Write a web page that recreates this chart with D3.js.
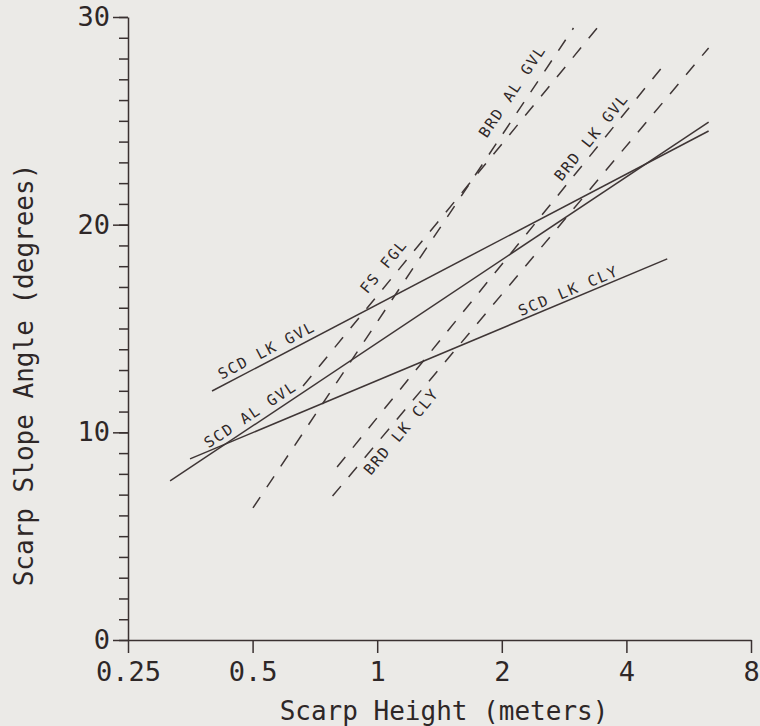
<!DOCTYPE html>
<html lang="en">
<head>
<meta charset="UTF-8">
<title>Scarp Slope Angle vs Scarp Height</title>
<script src="https://cdn.jsdelivr.net/npm/d3@7"></script>
<style>
  body { margin: 0; background: #ebeae7; }
  svg { display: block; }
  .axis path, .axis line { stroke: #3a3131; stroke-width: 1.5; }
  .axis text { font-family: "DejaVu Sans Mono", monospace; font-size: 27px; fill: #2e2727; }
</style>
</head>
<body>
<svg id="chart" width="760" height="726"></svg>
<script>
// fitted lines (start / end of each line)
var seriesNames  = ["SCD LK GVL", "SCD AL GVL", "SCD LK CLY", "FS FGL", "BRD AL GVL", "BRD LK GVL", "BRD LK CLY"];
var startHeight  = [0.399, 0.316, 0.353, 0.662, 0.501, 0.80, 0.78];
var startAngle   = [11.99, 7.66, 8.72, 12.23, 6.36, 8.33, 6.93];
var endHeight    = [6.32, 6.32, 5.02, 3.40, 2.98, 4.97, 6.32];
var endAngle     = [24.51, 24.94, 18.35, 29.47, 29.47, 27.78, 28.51];

var xTicks = [0.25, 0.5, 1, 2, 4, 8];
var yMajorTicks = [0, 10, 20, 30];
var yMinorTicks = d3.range(0, 31, 1);

// label placement along each line: fraction along it and sideways offset (px)
var labelPlace = {
  "SCD LK GVL": {t: 0.12, off: 11},
  "SCD AL GVL": {t: 0.16, off: 11},
  "SCD LK CLY": {t: 0.80, off: 9},
  "FS FGL":     {t: 0.31, off: 14},
  "BRD AL GVL": {t: 0.85, off: 16},
  "BRD LK GVL": {t: 0.80, off: 11},
  "BRD LK CLY": {t: 0.16, off: -11}
};
var dashedSeries = ["FS FGL", "BRD AL GVL", "BRD LK GVL", "BRD LK CLY"];

var svg = d3.select("#chart");
var ink = "#3f3636";

var x = d3.scaleLog().base(2).domain([0.25, 8]).range([128, 751]);
var y = d3.scaleLinear().domain([0, 30]).range([640, 17]);

// y axis: minor ticks then major ticks
svg.append("g")
    .attr("class", "axis")
    .attr("transform", "translate(128,0)")
    .call(d3.axisLeft(y).tickValues(yMinorTicks).tickSize(9).tickSizeOuter(0).tickFormat(""))
    .select(".domain").remove();

svg.append("g")
    .attr("class", "axis")
    .attr("transform", "translate(128,0)")
    .call(d3.axisLeft(y).tickValues(yMajorTicks).tickSize(15).tickSizeOuter(0).tickPadding(3));

// x axis
svg.append("g")
    .attr("class", "axis")
    .attr("transform", "translate(0,640)")
    .call(d3.axisBottom(x).tickValues(xTicks).tickSize(13).tickSizeOuter(0).tickPadding(9)
      .tickFormat(function(d) { return String(d); }));

svg.selectAll(".axis line, .axis path").attr("stroke", ink);

// axis titles
svg.append("text")
    .attr("x", 444).attr("y", 720)
    .attr("text-anchor", "middle")
    .style("font-family", "DejaVu Sans Mono, monospace")
    .style("font-size", "26px")
    .style("fill", "#2e2727")
    .text("Scarp Height (meters)");

svg.append("text")
    .attr("transform", "translate(33,375) rotate(-90)")
    .attr("text-anchor", "middle")
    .style("font-family", "DejaVu Sans Mono, monospace")
    .style("font-size", "26px")
    .style("fill", "#2e2727")
    .text("Scarp Slope Angle (degrees)");

// build line records from the arrays
var lines = seriesNames.map(function(name, i) {
  return {
    name: name,
    pts: [{h: startHeight[i], a: startAngle[i]}, {h: endHeight[i], a: endAngle[i]}]
  };
});

var lineGen = d3.line()
    .x(function(d) { return x(d.h); })
    .y(function(d) { return y(d.a); });

svg.append("g").selectAll("path")
  .data(lines)
  .enter().append("path")
    .attr("d", function(d) { return lineGen(d.pts); })
    .attr("fill", "none")
    .attr("stroke", ink)
    .attr("stroke-width", 1.5)
    .attr("stroke-dasharray", function(d) {
      return dashedSeries.indexOf(d.name) >= 0 ? "13,12" : null;
    });

// labels written along each line
svg.append("g").selectAll("text")
  .data(lines)
  .enter().append("text")
    .attr("transform", function(d) {
      var x0 = x(d.pts[0].h), y0 = y(d.pts[0].a);
      var x1 = x(d.pts[1].h), y1 = y(d.pts[1].a);
      var dx = x1 - x0, dy = y1 - y0, len = Math.sqrt(dx * dx + dy * dy);
      var ux = dx / len, uy = dy / len;
      var p = labelPlace[d.name];
      var cx = x0 + dx * p.t + uy * p.off;
      var cy = y0 + dy * p.t - ux * p.off;
      var ang = Math.atan2(dy, dx) * 180 / Math.PI;
      return "translate(" + cx + "," + cy + ") rotate(" + ang + ")";
    })
    .attr("text-anchor", "middle")
    .attr("dy", "0.36em")
    .style("font-family", "DejaVu Sans Mono, monospace")
    .style("font-size", "15px")
    .style("letter-spacing", "1.7px")
    .style("fill", "#2e2727")
    .text(function(d) { return d.name; });
</script>
</body>
</html>
